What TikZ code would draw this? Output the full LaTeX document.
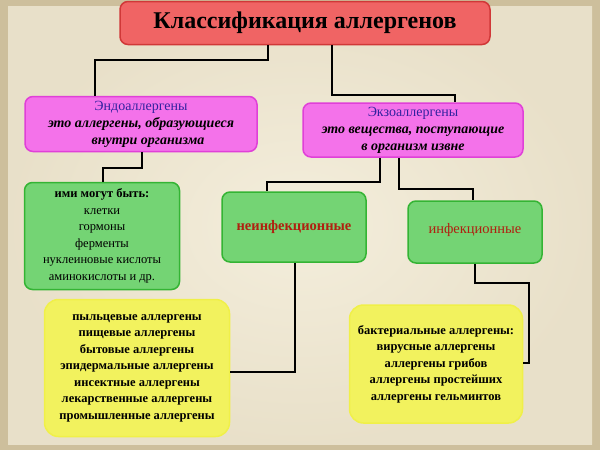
\documentclass[tikz,border=0pt]{standalone}
\usepackage{fontspec}
\setmainfont{Liberation Serif}
\usepackage{xcolor}
\definecolor{bgbeige}{HTML}{F4EEDC}
\definecolor{bgedge}{HTML}{CDBF9C}
\definecolor{titlered}{HTML}{F06464}
\definecolor{titleedge}{HTML}{D03838}
\definecolor{pinkfill}{HTML}{F472EA}
\definecolor{pinkedge}{HTML}{E040D8}
\definecolor{greenfill}{HTML}{74D474}
\definecolor{greenedge}{HTML}{34B434}
\definecolor{yellowfill}{HTML}{F2F25E}
\definecolor{yellowedge}{HTML}{F0F048}
\definecolor{endoblue}{HTML}{3222A0}
\definecolor{infred}{HTML}{B02010}
\begin{document}
\begin{tikzpicture}[
            x = 1pt, y = -1pt, % pixel grid of the slide
            line width = 2.5pt, % connector style
            box/.style = {draw, rounded corners=8pt, line width=1.5pt, align=center, inner sep=2pt, font=\bfseries\fontsize{12.5}{16.5}\selectfont},
            pinkbox/.style = {box, fill=pinkfill, draw=pinkedge, font=\bfseries\fontsize{14}{17}\selectfont},
            greenbox/.style = {box, fill=greenfill, draw=greenedge},
            yellowbox/.style = {box, fill=yellowfill, draw=yellowedge, rounded corners=14pt}
        ]
% background
\path[fill=bgedge] (0,0) rectangle (600,450);
\path[inner color=bgbeige, outer color=bgbeige!70!bgedge] (8,6) rectangle (592,444);
\useasboundingbox (0,0) rectangle (600,450);

\node[box, fill=titlered, draw=titleedge, minimum width=370pt, minimum height=43pt,
      font=\bfseries\fontsize{24}{27}\selectfont] (T) at (305,23) {Классификация аллергенов};
\node[pinkbox, minimum width=232pt, minimum height=55pt] (E) at (141,124)
  {\textcolor{endoblue}{\mdseries Эндоаллергены}\\ \itshape это аллергены, образующиеся\\ \itshape\quad внутри организма};
\node[pinkbox, minimum width=220pt, minimum height=54pt] (X) at (413,130)
  {\textcolor{endoblue}{\mdseries Экзоаллергены}\\ \itshape это вещества, поступающие\\ \itshape в организм извне};
\node[greenbox, minimum width=155pt, minimum height=107pt, font=\fontsize{12.5}{16.5}\selectfont] (G) at (102,236)
  {\textbf{ими могут быть:}\\ клетки\\ гормоны\\ ферменты\\ нуклеиновые кислоты\\ аминокислоты и др.};
\node[greenbox, minimum width=144pt, minimum height=70pt, text=infred, font=\bfseries\fontsize{14.5}{17}\selectfont] (N) at (294,227) {неинфекционные};
\node[greenbox, minimum width=134pt, minimum height=62pt, text=infred, font=\fontsize{14.5}{17}\selectfont] (I) at (475,232) {\raisebox{8pt}{инфекционные}};
\node[yellowbox, minimum width=185pt, minimum height=137pt] (Y1) at (137,368)
  {пыльцевые аллергены\\ пищевые аллергены\\ бытовые аллергены\\ эпидермальные аллергены\\ инсектные аллергены\\ лекарственные аллергены\\ промышленные аллергены};
\node[yellowbox, minimum width=173pt, minimum height=118pt] (Y2) at (436,364)
  {бактериальные аллергены:\\ вирусные аллергены\\ аллергены грибов\\ аллергены простейших\\ аллергены гельминтов};

\draw (T.south -| 268,0) |- (95,60) -- (E.north -| 95,0);
\draw (T.south -| 332,0) |- (455,95) -- (X.north -| 455,0);
\draw (E.south -| 142,0) |- (103,168) -- (G.north -| 103,0);
\draw (X.south -| 380,0) |- (267,182) -- (N.north -| 267,0);
\draw (X.south -| 399,0) |- (473,189) -- (I.north -| 473,0);
\draw (N.south -| 295,0) |- (Y1.east |- 0,372);
\draw (I.south -| 475,0) |- (529,283) |- (Y2.east |- 0,363);
\end{tikzpicture}
\end{document}
